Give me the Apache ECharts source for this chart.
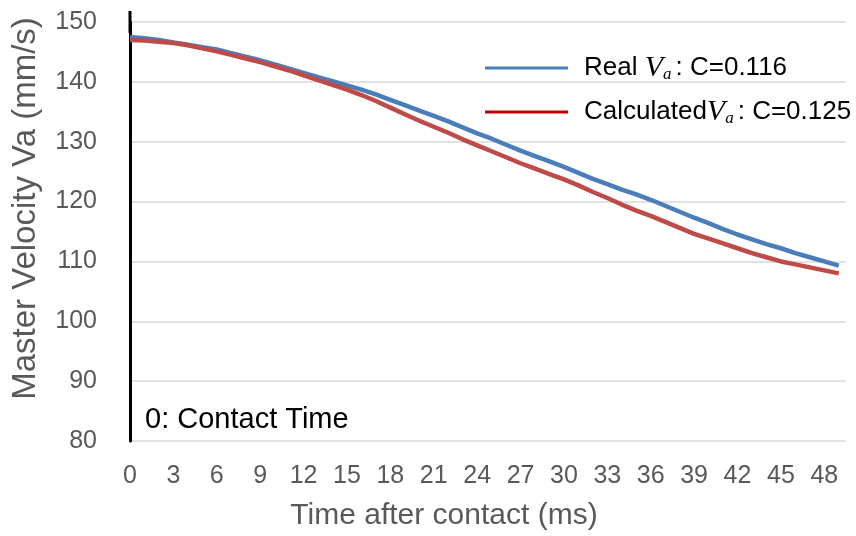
<!DOCTYPE html>
<html>
<head>
<meta charset="utf-8">
<script src="https://cdn.jsdelivr.net/npm/echarts@6/dist/echarts.min.js"></script>
<style>
  html, body { margin: 0; padding: 0; background: #fff; }
  #main { width: 856px; height: 536px; }
</style>
</head>
<body>
<div id="main"></div>
<script>
// time after contact (ms)
var timeMs = [];
for (var i = 0; i < 50; i++) timeMs.push(i);

// Real Va
var realVa = [147.5, 147.3, 147.0, 146.6, 146.2, 145.8, 145.4, 144.8, 144.2, 143.6,
              142.9, 142.2, 141.5, 140.8, 140.1, 139.4, 138.7, 137.9, 137.0, 136.1,
              135.2, 134.3, 133.4, 132.4, 131.4, 130.5, 129.5, 128.5, 127.6, 126.7,
              125.8, 124.8, 123.8, 122.9, 122.0, 121.2, 120.3, 119.3, 118.3, 117.3,
              116.4, 115.4, 114.5, 113.7, 112.9, 112.2, 111.4, 110.7, 110.0, 109.3];

// Calculated Va
var calcVa = [147.0, 146.9, 146.7, 146.5, 146.1, 145.6, 145.1, 144.5, 143.9, 143.3,
              142.6, 141.9, 141.1, 140.3, 139.5, 138.7, 137.8, 136.8, 135.7, 134.6,
              133.5, 132.5, 131.5, 130.4, 129.4, 128.4, 127.4, 126.4, 125.5, 124.6,
              123.7, 122.7, 121.6, 120.6, 119.5, 118.5, 117.6, 116.6, 115.6, 114.6,
              113.8, 113.0, 112.2, 111.4, 110.7, 110.0, 109.5, 109.0, 108.5, 108.0];

var legendText = {
    'Real': '{t|Real }{v|V}{s|a}{t|: C=0.116}',
    'Calculated': '{t|Calculated}{v|V}{s|a}{t|: C=0.125}'
};

function pairs(ys) {
    var out = [];
    for (var i = 0; i < ys.length; i++) out.push([timeMs[i], ys[i]]);
    return out;
}

var chart = echarts.init(document.getElementById('main'));

var option = {
    animation: false,
    grid: { left: 130, right: 10, top: 22, bottom: 95 },
    legend: {
        orient: 'vertical',
        left: 480,
        top: 48,
        icon: 'rect',
        itemWidth: 83,
        itemHeight: 3,
        itemGap: 14,
        data: [
            { name: 'Real', itemStyle: { color: '#4a7ebb' } },
            { name: 'Calculated', itemStyle: { color: '#c00000' } }
        ],
        formatter: function (name) { return legendText[name]; },
        textStyle: {
            padding: [0, 0, 0, 11],
            rich: {
                t: { fontFamily: 'Liberation Sans', fontSize: 26, color: '#000', lineHeight: 30 },
                v: { fontFamily: 'Liberation Serif', fontStyle: 'italic', fontSize: 30, color: '#000', lineHeight: 30 },
                s: { fontFamily: 'Liberation Serif', fontStyle: 'italic', fontSize: 17, color: '#000',
                     lineHeight: 16, verticalAlign: 'bottom', padding: [0, 4, 0, 0] }
            }
        }
    },
    xAxis: {
        type: 'value',
        min: 0,
        max: 49.5,
        interval: 3,
        name: 'Time after contact (ms)',
        nameLocation: 'middle',
        nameGap: 60,
        nameTextStyle: { fontFamily: 'Liberation Sans', fontSize: 30, color: '#595959', padding: [0, 88, 0, 0] },
        axisLine: { show: false },
        axisTick: { show: false },
        splitLine: { show: false },
        axisLabel: {
            fontFamily: 'Liberation Sans', fontSize: 25, color: '#595959', margin: 23,
            showMaxLabel: false
        }
    },
    yAxis: {
        type: 'value',
        min: 80,
        max: 150,
        interval: 10,
        name: 'Master Velocity Va (mm/s)',
        nameLocation: 'middle',
        nameGap: 88,
        nameTextStyle: { fontFamily: 'Liberation Sans', fontSize: 33, color: '#595959', padding: [0, 0, 0, 46] },
        axisLine: {
            show: true,
            lineStyle: { color: '#000', width: 3 },
            symbol: ['none', 'rect'],
            symbolSize: [3, 22]
        },
        axisTick: { show: false },
        splitLine: { lineStyle: { color: '#d9d9d9', width: 1.5 } },
        axisLabel: { fontFamily: 'Liberation Sans', fontSize: 25, color: '#595959', margin: 33 }
    },
    graphic: [{
        type: 'text',
        left: 145,
        top: 405,
        style: { text: '0: Contact Time', fontFamily: 'Liberation Sans', fontSize: 29, fill: '#000' }
    }],
    series: [
        {
            name: 'Real',
            type: 'line',
            data: pairs(realVa),
            showSymbol: false,
            lineStyle: { color: '#4a7ebb', width: 4.5 },
            itemStyle: { color: '#4a7ebb' },
            z: 3
        },
        {
            name: 'Calculated',
            type: 'line',
            data: pairs(calcVa),
            showSymbol: false,
            lineStyle: { color: '#be4b48', width: 4.5 },
            itemStyle: { color: '#be4b48' },
            z: 4
        }
    ]
};

chart.setOption(option);
</script>
</body>
</html>
